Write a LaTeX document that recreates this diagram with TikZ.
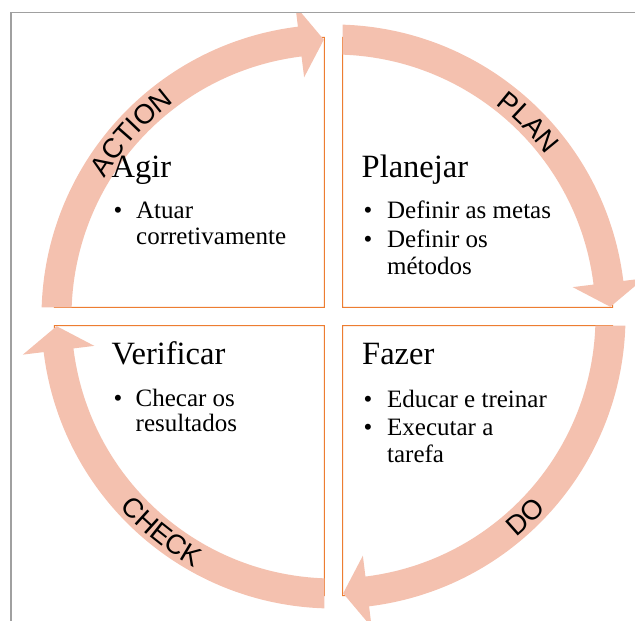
\documentclass[tikz,border=0pt]{standalone}
\usepackage{fontspec}
\setmainfont{Liberation Serif}
\newfontfamily\lblfont{Liberation Sans}
\usetikzlibrary{decorations.text}
\definecolor{arrowpink}{RGB}{244,193,175}
\definecolor{boxorange}{RGB}{237,125,49}
\definecolor{framegray}{RGB}{160,160,160}
\tikzset{
  cyclearrow/.pic={
    \fill[arrowpink] (88.19:292) arc[start angle=88.19,end angle=7,radius=292]
      -- (7:313) -- (2:277) -- (7:241) -- (7:262)
      arc[start angle=7,end angle=87.99,radius=262] -- cycle;
  },
  quadline/.style={draw=boxorange, line width=1.1pt, fill=white},
  headtxt/.style={anchor=base west, inner sep=0pt, font=\fontsize{32.5}{39}\selectfont},
  itemtxt/.style={anchor=base west, inner sep=0pt, font=\fontsize{25}{30}\selectfont},
  arclabel/.style={decorate, decoration={text along path, text align=center,
      text={|\lblfont\fontsize{27.5}{33}\selectfont|#1}}}
}
\begin{document}
\begin{tikzpicture}[x=1pt,y=1pt]
\useasboundingbox (-333.5,-304.5) rectangle (301.5,316.5);
\begin{scope}
\clip (-322.5,-304.5) rectangle (301.5,303.8);
% quadrant shapes
\draw[quadline] (-9.1,9.1) -- (-279.1,9.1) arc[start angle=180,end angle=90,radius=270] -- cycle;
\draw[quadline] (9.1,9.1) -- (9.1,279.1) arc[start angle=90,end angle=0,radius=270] -- cycle;
\draw[quadline] (9.1,-9.1) -- (279.1,-9.1) arc[start angle=0,end angle=-90,radius=270] -- cycle;
\draw[quadline] (-9.1,-9.1) -- (-9.1,-279.1) arc[start angle=270,end angle=180,radius=270] -- cycle;
% arrows
\pic[rotate=90] {cyclearrow};
\pic {cyclearrow};
\pic[rotate=-90] {cyclearrow};
\pic[rotate=180] {cyclearrow};
\end{scope}
% frame
\draw[framegray, line width=1.5pt] (-322.5,-304.5) -- (-322.5,303.8) -- (301.5,303.8);
% arc labels
\path[arclabel=ACTION] (182.7:267.2) arc[start angle=182.7,end angle=92.7,radius=267.2];
\path[arclabel=PLAN] (89.9:267.2) arc[start angle=89.9,end angle=-0.1,radius=267.2];
\path[arclabel=DO] (-91.3:286.8) arc[start angle=-91.3,end angle=-1.3,radius=286.8];
\path[arclabel=CHECK] (186.4:286.8) arc[start angle=186.4,end angle=276.4,radius=286.8];
% top-left
\node[headtxt] (agir) at (-222,138.5) {Agir};
\node[itemtxt] (b1) at (-220,97.5) {•};
\node[itemtxt] (a1) at (-197.5,97.5) {Atuar};
\node[itemtxt] (a2) at (-197.5,72) {corretivamente};
% top-right
\node[headtxt] (plan) at (28,138.5) {Planejar};
\node[itemtxt] (b2) at (30,97.5) {•};
\node[itemtxt] (p1) at (53.5,97.5) {Definir as metas};
\node[itemtxt] (b3) at (30,69) {•};
\node[itemtxt] (p2) at (53.5,69) {Definir os};
\node[itemtxt] (p3) at (53.5,41.5) {métodos};
% bottom-left
\node[headtxt] (verif) at (-222,-48.5) {Verificar};
\node[itemtxt] (b4) at (-220,-89.5) {•};
\node[itemtxt] (v1) at (-198,-89.5) {Checar os};
\node[itemtxt] (v2) at (-198,-115) {resultados};
% bottom-right
\node[headtxt] (fazer) at (28.5,-48.5) {Fazer};
\node[itemtxt] (b5) at (30,-90.5) {•};
\node[itemtxt] (f1) at (53.5,-90.5) {Educar e treinar};
\node[itemtxt] (b6) at (30,-118.5) {•};
\node[itemtxt] (f2) at (53.5,-118.5) {Executar a};
\node[itemtxt] (f3) at (53.5,-146) {tarefa};
\end{tikzpicture}
\end{document}
